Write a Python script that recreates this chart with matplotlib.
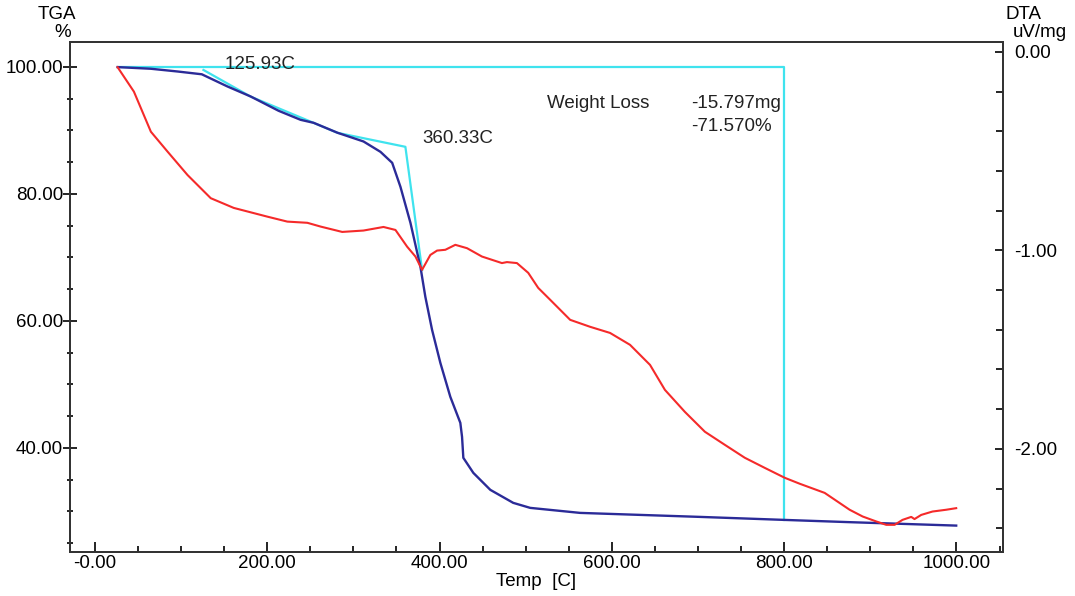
import matplotlib
matplotlib.use('Agg')
import matplotlib.pyplot as plt
from matplotlib.pyplot import MultipleLocator
from matplotlib import rcParams

rcParams['font.family'] = ['Liberation Sans', 'DejaVu Sans']
rcParams['font.size'] = 13.5

# TGA curve (temperature C, weight %)
tga_temp = [26.3, 64.9, 95.8, 124.0, 153.8, 180.8, 213.2, 238.7, 253.8, 281.6, 311.7, 331.4,
            345.0, 354.6, 366.2, 377.8, 383.5, 391.3, 400.9, 412.5, 424.1, 426.1, 427.6,
            439.2, 458.9, 485.5, 505.2, 563.1, 702.2, 799.5, 876.0, 999.7]
tga_val = [99.95, 99.69, 99.26, 98.82, 96.90, 95.32, 93.07, 91.65, 91.18, 89.61, 88.24, 86.61,
           84.88, 81.10, 75.43, 68.50, 63.78, 58.58, 53.39, 48.03, 43.94, 41.73, 38.43,
           36.06, 33.39, 31.34, 30.55, 29.76, 29.13, 28.66, 28.30, 27.76]

# DTA curve (temperature C, uV/mg)
dta_temp = [26.3, 45.2, 64.9, 84.2, 107.4, 134.4, 161.1, 200.1, 223.3, 246.5, 261.9, 287.0,
            311.7, 334.9, 348.8, 362.3, 372.0, 379.7, 389.3, 397.1, 406.7, 418.3, 431.9,
            449.2, 472.4, 478.2, 489.8, 502.9, 514.5, 528.4, 551.6, 574.7, 597.9, 621.1,
            644.3, 661.6, 684.8, 708.0, 731.2, 754.3, 777.5, 800.7, 818.1, 847.0, 876.0,
            891.1, 906.9, 918.5, 928.2, 937.4, 947.5, 951.3, 959.1, 972.2, 988.1, 999.7]
dta_val = [-0.077, -0.200, -0.402, -0.502, -0.620, -0.737, -0.786, -0.830, -0.855, -0.861, -0.880, -0.907,
           -0.900, -0.882, -0.897, -0.981, -1.031, -1.098, -1.023, -1.001, -0.997, -0.972, -0.989,
           -1.031, -1.064, -1.059, -1.064, -1.113, -1.189, -1.249, -1.350, -1.385, -1.416, -1.476,
           -1.577, -1.703, -1.814, -1.914, -1.980, -2.045, -2.096, -2.146, -2.176, -2.222, -2.307,
           -2.341, -2.366, -2.383, -2.383, -2.358, -2.343, -2.354, -2.333, -2.316, -2.307, -2.299]

# onset construction and weight loss bracket
tangent_temp = [125.93, 180.8, 281.6, 360.33, 379.7]
tangent_val = [99.5, 95.3, 89.6, 87.4, 68.0]
wl_temp = [26.3, 800.0, 800.0]
wl_val = [100.0, 100.0, 28.66]

x_ticks = [0, 200, 400, 600, 800, 1000]
x_labels = ['-0.00', '200.00', '400.00', '600.00', '800.00', '1000.00']
tga_ticks = [100, 80, 60, 40]
tga_labels = ['100.00', '80.00', '60.00', '40.00']
dta_ticks = [0, -1, -2]
dta_labels = ['0.00', '-1.00', '-2.00']

navy = '#2B2B98'
red = '#F52A2A'
cyan = '#3FE3EE'

fig = plt.figure(figsize=(10.75, 5.96), dpi=100)
ax = fig.add_axes([0.0651, 0.0738, 0.8679, 0.8557])
ax2 = ax.twinx()

ax.plot(wl_temp, wl_val, color=cyan, lw=1.6, zorder=1)
ax.plot(tangent_temp, tangent_val, color=cyan, lw=1.6, zorder=1)
ax.plot(tga_temp, tga_val, color=navy, lw=1.7, zorder=3)
ax2.plot(dta_temp, dta_val, color=red, lw=1.5)

ax.set_xlim(-29, 1054)
ax.set_ylim(23.6, 103.9)
ax2.set_ylim(-2.52, 0.05)

ax.set_xticks(x_ticks)
ax.set_xticklabels(x_labels)
ax.xaxis.set_minor_locator(MultipleLocator(50))
ax.set_yticks(tga_ticks)
ax.set_yticklabels(tga_labels)
ax.yaxis.set_minor_locator(MultipleLocator(5))
ax2.set_yticks(dta_ticks)
ax2.set_yticklabels(dta_labels)
ax2.yaxis.set_minor_locator(MultipleLocator(0.2))

ax.tick_params(axis='x', which='major', direction='in', length=7, width=1.2, pad=2, labelsize=13.5)
ax.tick_params(axis='x', which='minor', direction='in', length=4, width=1.2)
ax.tick_params(axis='y', which='major', direction='inout', length=10, width=1.2, pad=0, labelsize=13.5)
ax.tick_params(axis='y', which='minor', direction='inout', length=5, width=1.2)
ax2.tick_params(axis='y', which='major', direction='in', length=6, width=1.2, pad=8, labelsize=13.5)
ax2.tick_params(axis='y', which='minor', direction='in', length=5, width=1.2)

for a in (ax, ax2):
    for s in a.spines.values():
        s.set_linewidth(1.3)
        s.set_color('#333333')

ax.set_xlabel('Temp  [C]', fontsize=13.5, labelpad=1)
fig.text(0.053, 0.975, 'TGA', ha='center', va='center', fontsize=13.5)
fig.text(0.058, 0.946, '%', ha='center', va='center', fontsize=13.5)
fig.text(0.952, 0.975, 'DTA', ha='center', va='center', fontsize=13.5)
fig.text(0.967, 0.946, 'uV/mg', ha='center', va='center', fontsize=13.5)

ax.text(151, 100.3, '125.93C', fontsize=13.5, va='center', color='#222222')
ax.text(380, 88.7, '360.33C', fontsize=13.5, va='center', color='#222222')
ax.text(525, 94.2, 'Weight Loss', fontsize=13.5, va='center', color='#222222')
ax.text(692, 94.2, '-15.797mg', fontsize=13.5, va='center', color='#222222')
ax.text(692, 90.6, '-71.570%', fontsize=13.5, va='center', color='#222222')

plt.savefig('out.png', dpi=100)
